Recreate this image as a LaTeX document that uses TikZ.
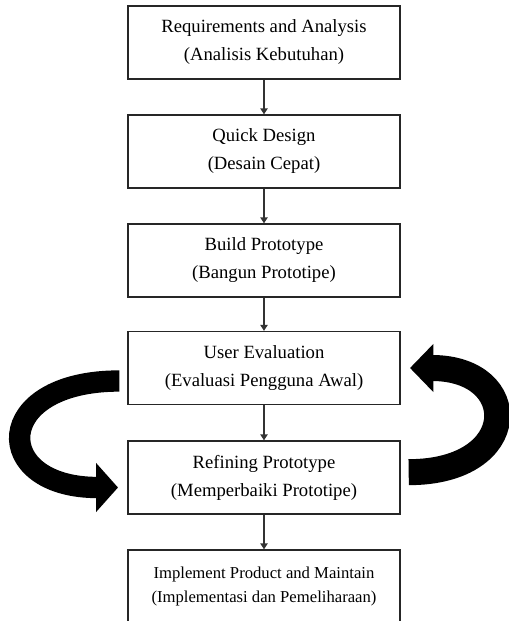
\documentclass[tikz,border=0pt]{standalone}
\usepackage{fontspec}
\setmainfont{Liberation Serif}
\usetikzlibrary{arrows.meta}
\tikzstyle{caja}=[draw=black!85, line width=1pt, fill=white, minimum width=204pt, minimum height=54.75pt, align=center, font=\fontsize{14}{21}\selectfont]
\tikzstyle{flecha}=[draw=black!80, line width=1pt, -{Triangle[length=4.5pt, width=5.5pt]}]
\tikzstyle{bucle}=[line width=16pt, line cap=butt]

\begin{document}
\begin{tikzpicture}[x=0.75pt, y=-0.75pt]
            \useasboundingbox (0,0) rectangle (509,621);
            % cajas
            \node[caja] (req) at (264,42.5) {Requirements and Analysis\\(Analisis Kebutuhan)};
            \node[caja] (quick) at (264,151.5) {Quick Design\\(Desain Cepat)};
            \node[caja] (build) at (264,260.5) {Build Prototype\\(Bangun Prototipe)};
            \node[caja] (eval) at (264,368) {User Evaluation\\(Evaluasi Pengguna Awal)};
            \node[caja] (refine) at (264,477.5) {Refining Prototype\\(Memperbaiki Prototipe)};
            \node[caja, font=\fontsize{12.5}{18}\selectfont] (impl) at (264,586.5) {Implement Product and Maintain\\(Implementasi dan Pemeliharaan)};

            % flechas
            \draw[flecha] (req) -- (quick);
            \draw[flecha] (quick) -- (build);
            \draw[flecha] (build) -- (eval);
            \draw[flecha] (eval) -- (refine);
            \draw[flecha] (refine) -- (impl);

            % bucles de evaluacion
            \draw[bucle, -{Triangle[length=16.5pt, width=36pt]}, shorten <=6pt, shorten >=7pt]
                ([yshift=-9.75pt]eval.west) to[out=180, in=180, looseness=3.3] ([yshift=-7.5pt]refine.west);
            \draw[bucle, line width=19.5pt, -{Triangle[length=17.5pt, width=35pt]}, shorten <=6pt, shorten >=7pt]
                ([yshift=4pt]refine.east) to[out=0, in=0, looseness=3.0] (eval.east);
        \end{tikzpicture}
\end{document}
